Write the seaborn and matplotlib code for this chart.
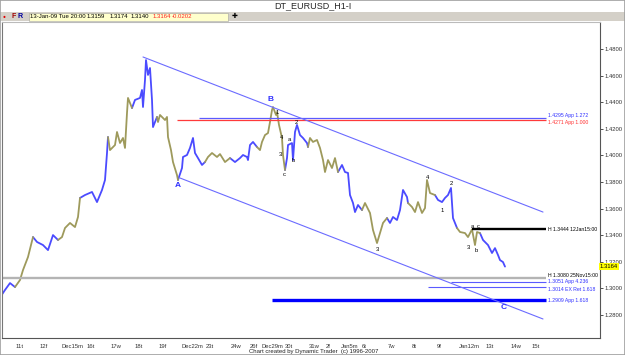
import numpy as np
import pandas as pd
import matplotlib
matplotlib.use("Agg")
import matplotlib.pyplot as plt
from matplotlib.patches import Rectangle
import seaborn as sns

# ---------------- data ----------------
bars = [1, 5, 10, 15, 20, 23, 28, 33, 37, 43,
        48, 53, 58, 62, 65, 70, 75, 78, 80, 85,
        92, 97, 102, 105, 107, 108, 110, 115, 117, 120,
        123, 125, 127, 128, 132, 135, 140, 142, 143, 145,
        146, 148, 150, 152, 153, 157, 158, 160, 165, 167,
        168, 171, 173, 177, 178, 182, 183, 187, 190, 193,
        195, 198, 202, 205, 208, 212, 217, 220, 225, 230,
        235, 240, 243, 247, 248, 250, 253, 257, 260, 262,
        265, 268, 270, 272, 273, 276, 277, 279, 282, 283,
        285, 287, 288, 292, 293, 295, 297, 300, 303, 307,
        308, 310, 313, 317, 320, 323, 325, 328, 332, 335,
        338, 342, 345, 348, 350, 353, 355, 358, 362, 365,
        370, 373, 377, 380, 383, 387, 390, 393, 397, 400,
        403, 407, 408, 412, 415, 418, 422, 425, 427, 430,
        435, 438, 442, 445, 448, 451, 452, 453, 457, 460,
        465, 468, 472, 475, 477, 480, 483, 488, 492, 495,
        498, 500, 503, 505]
prices = [1.2943, 1.2988, 1.3040, 1.3010, 1.3063, 1.3138, 1.3236, 1.3386, 1.3349, 1.3326,
          1.3288, 1.3401, 1.3364, 1.3386, 1.3454, 1.3492, 1.3461, 1.3537, 1.3680, 1.3702,
          1.3725, 1.3649, 1.3740, 1.3815, 1.4018, 1.4138, 1.4040, 1.4078, 1.4176, 1.4093,
          1.4131, 1.4056, 1.4319, 1.4432, 1.4356, 1.4417, 1.4432, 1.4492, 1.4364, 1.4567,
          1.4717, 1.4605, 1.4657, 1.4417, 1.4213, 1.4289, 1.4251, 1.4304, 1.4266, 1.4289,
          1.4138, 1.4040, 1.3950, 1.3852, 1.3815, 1.3905, 1.3988, 1.4003, 1.4056, 1.4131,
          1.4018, 1.3980, 1.3928, 1.3950, 1.3988, 1.4018, 1.3988, 1.4010, 1.3950, 1.3980,
          1.3950, 1.3980, 1.4003, 1.3988, 1.3965, 1.4078, 1.4101, 1.4063, 1.4040, 1.4101,
          1.4153, 1.4168, 1.4251, 1.4341, 1.4364, 1.4304, 1.4326, 1.4229, 1.4131, 1.4003,
          1.3890, 1.3980, 1.4078, 1.4093, 1.3965, 1.4176, 1.4229, 1.4153, 1.4131, 1.4093,
          1.4063, 1.4131, 1.4101, 1.4116, 1.4056, 1.3965, 1.3875, 1.3965, 1.3905, 1.3980,
          1.3875, 1.3928, 1.3875, 1.3868, 1.3702, 1.3642, 1.3574, 1.3627, 1.3589, 1.3642,
          1.3567, 1.3439, 1.3341, 1.3416, 1.3492, 1.3529, 1.3492, 1.3537, 1.3514, 1.3589,
          1.3740, 1.3687, 1.3642, 1.3612, 1.3574, 1.3649, 1.3567, 1.3604, 1.3815, 1.3717,
          1.3702, 1.3665, 1.3649, 1.3680, 1.3702, 1.3755, 1.3642, 1.3529, 1.3454, 1.3424,
          1.3416, 1.3386, 1.3444, 1.3326, 1.3424, 1.3416, 1.3364, 1.3326, 1.3266, 1.3303,
          1.3251, 1.3213, 1.3198, 1.3164]
assert len(bars) == len(prices)

# bars where the bar colour switches (alternating trading days)
color_breaks = [17, 37, 60, 85, 110, 133, 158, 182, 207, 235, 260, 287, 310,
                340, 365, 388, 410, 436, 458, 482]

tick_bars = [16, 40, 62, 87, 111, 135, 159, 182, 206, 231, 250, 261, 285, 309,
             326, 341, 362, 388, 412, 437, 459, 486, 511, 532]
tick_labels = ["11t", "12f", "Dec15m", "16t", "17w", "18t", "19f", "Dec22m", "23t",
               "24w", "26f", "Dec29m", "30t", "31w", "2f", "Jan5m", "6t", "7w", "8t",
               "9f", "Jan12m", "13t", "14w", "15t"]
y_ticks = [1.28, 1.30, 1.32, 1.34, 1.36, 1.38, 1.40, 1.42, 1.44, 1.46, 1.48]

# horizontal price levels
levels = [1.4283, 1.4268, 1.3444, 1.3080, 1.3051, 1.3014, 1.2909]
level_start = [199, 177, 472, 2, 451, 428, 272]
level_labels = ["1.4295 App 1.272", "1.4271 App 1.000", "H 1.3444 12Jan15:00",
                "H 1.3080 25Nov15:00", "1.3051 App 4.236", "1.3014 EX Ret 1.618",
                "1.2909 App 1.618"]
level_end = 546

# channel lines (bar, price)
upper_channel = [(143, 1.4740), (543, 1.3574)]
lower_channel = [(180, 1.3830), (543, 1.2770)]

# wave labels
big_labels = [("A", 178, 1.3770), ("B", 271, 1.4424), ("C", 504, 1.2860)]
small_labels = [("4", 427, 1.3832), ("2", 451, 1.3790), ("1", 442, 1.3582),
                ("3", 377, 1.3296), ("3", 468, 1.3311), ("b", 476, 1.3288),
                ("a", 472, 1.3468), ("c", 478, 1.3468),
                ("1", 277, 1.4319), ("4", 282, 1.4131), ("3", 280, 1.4010),
                ("c", 284, 1.3860), ("a", 289, 1.4116), ("b", 293, 1.3965),
                ("2", 296, 1.4251)]
last_price = 1.3164

# ---------------- build frame ----------------
seg = [int(np.searchsorted(color_breaks, b, side="right")) for b in bars]
rows = []
for i, (b, p, s) in enumerate(zip(bars, prices, seg)):
    if i > 0 and seg[i - 1] != s:
        rows.append((bars[i - 1], prices[i - 1], s))
    rows.append((b, p, s))
df = pd.DataFrame(rows, columns=["bar", "price", "seg"])
df["day"] = np.where(df["seg"] % 2 == 0, "blue", "olive")

# ---------------- plot ----------------
sns.set_style("white")
plt.rcParams["font.family"] = ["Liberation Sans", "DejaVu Sans"]

W, H = 625, 355
fig = plt.figure(figsize=(W / 100, H / 100), dpi=100)
fig.patch.set_facecolor("white")

ax = fig.add_axes([2 / W, 17 / H, 598 / W, 316 / H])
ax.set_facecolor("white")

sns.lineplot(data=df, x="bar", y="price", hue="day", units="seg", estimator=None,
             sort=False, palette={"blue": "#4b4bff", "olive": "#9e9a5c"},
             lw=1.3, legend=False, ax=ax)

line_cols = ["#5a5aff", "#ff3a3a", "black", "#b4b4b4", "#5a5aff", "#5a5aff", "#0000ff"]
line_lws = [0.9, 0.9, 1.7, 1.7, 0.8, 0.8, 2.4]
text_cols = ["#3030ff", "#ff3030", "black", "black", "#3030ff", "#3030ff", "#3030ff"]
text_va = ["bottom", "top", "center", "bottom", "center", "top", "center"]
for lv, x0, lab, c, lw, tc, va in zip(levels, level_start, level_labels,
                                      line_cols, line_lws, text_cols, text_va):
    ax.hlines(lv, x0, level_end, colors=c, lw=lw)
    ax.text(level_end + 2, lv, lab, color=tc, fontsize=3.7, va=va, ha="left")

for line in (upper_channel, lower_channel):
    ax.plot([line[0][0], line[1][0]], [line[0][1], line[1][1]], color="#6b6bff", lw=0.8)

for t, b, p in big_labels:
    ax.text(b, p, t, color="#3030ff", fontsize=6, fontweight="bold", ha="center", va="center")
for t, b, p in small_labels:
    ax.text(b, p, t, color="black", fontsize=4.2, ha="center", va="center")

ax.set_xlim(2, 600)
ax.set_ylim(1.2627, 1.5003)
ax.set_xlabel("")
ax.set_ylabel("")

ax.set_xticks(tick_bars)
ax.set_xticklabels(tick_labels, ha="left", fontsize=4.2)
ax.yaxis.tick_right()
ax.set_yticks(y_ticks)
ax.set_yticklabels([f"{v:.4f}" for v in y_ticks], fontsize=4.2)
ax.tick_params(axis="x", direction="out", length=3, width=0.6, pad=1, colors="#333333")
ax.tick_params(axis="y", direction="out", length=2.5, width=0.6, pad=1, colors="#333333")
for s in ("left", "bottom", "right", "top"):
    ax.spines[s].set_visible(True)
    ax.spines[s].set_linewidth(0.8)
ax.spines["left"].set_color("#777777")
ax.spines["bottom"].set_color("#555555")
ax.spines["right"].set_color("#555555")
ax.spines["top"].set_color("#bbbbbb")

ax.text(1.0, last_price, f"{last_price:.4f}", transform=ax.get_yaxis_transform(),
        fontsize=4.2, ha="left", va="center", color="black",
        bbox=dict(boxstyle="square,pad=0.15", fc="#ffff00", ec="none"))

# header / toolbar
fig.text(313 / W, 1 - 6 / H, "DT_EURUSD_H1-I", fontsize=6.5, ha="center", va="center")
fig.add_artist(Rectangle((0, 1 - 21 / H), 1, 9 / H, transform=fig.transFigure,
                         fc="#d4d0c8", ec="none"))
fig.add_artist(Rectangle((29 / W, 1 - 20.5 / H), 199 / W, 8 / H, transform=fig.transFigure,
                         fc="#ffffcc", ec="#a0a0a0", lw=0.4))
ty = 1 - 16.5 / H
fig.text(3 / W, ty, "\u25cf", color="#e00000", fontsize=3.5, va="center")
fig.text(11 / W, ty, "F", color="#a00000", fontsize=5, fontweight="bold", va="center")
fig.text(18 / W, ty, "R", color="#0000a0", fontsize=5, fontweight="bold", va="center")
for x, s, c in [(30, "13-Jan-09 Tue 20:00", "black"), (87, "1.3159", "black"),
                (110, "1.3174", "black"), (131, "1.3140", "black"),
                (153, "1.3164", "#ff2020"), (172, "-0.0202", "#ff2020")]:
    fig.text(x / W, ty, s, color=c, fontsize=4.3, va="center")
fig.text(235 / W, ty, "\u271a", color="black", fontsize=5, va="center", ha="center")

fig.text(314 / W, 1 - 351 / H, "Chart created by Dynamic Trader  (c) 1996-2007",
         fontsize=4.3, ha="center", va="center", color="#222222")

fig.add_artist(Rectangle((0, 0), 1, 1, transform=fig.transFigure, fill=False,
                         ec="#a0a0a0", lw=1.2))

fig.savefig("out.png", dpi=100)
